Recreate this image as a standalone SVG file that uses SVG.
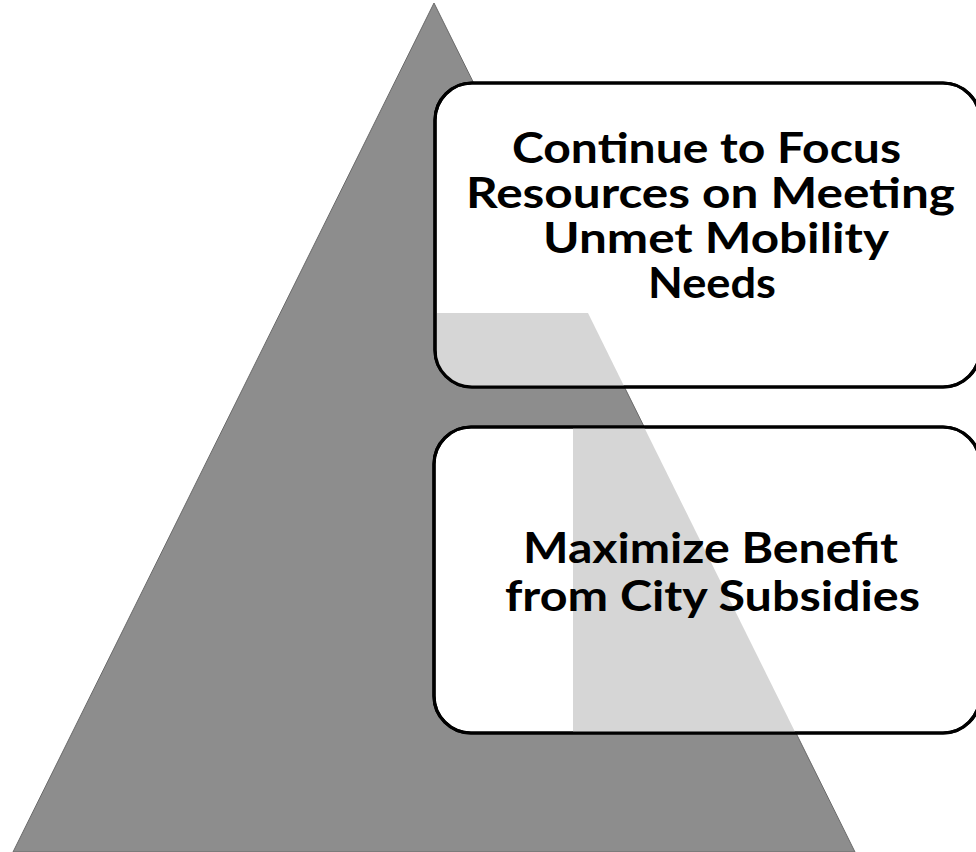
<svg xmlns="http://www.w3.org/2000/svg" width="976" height="852" viewBox="0 0 976 852">
  <style>
    .tri { fill: #8d8d8d; stroke: #6a6a6a; stroke-width: 1; }
    .box { fill: #ffffff; stroke: #000000; stroke-width: 3.2; }
    .boxline { fill: none; stroke: #000000; stroke-width: 3.2; }
    .light { fill: #d6d6d6; }
    .lbl { font-family: "Lato", "Open Sans", "Liberation Sans", sans-serif; font-weight: 700; font-size: 42px; fill: #000000; }
  </style>
  <defs>
    <clipPath id="clip1"><rect x="435" y="83" width="545" height="304" rx="37" ry="37"/></clipPath>
    <clipPath id="clip2"><rect x="434" y="427" width="546" height="306" rx="37" ry="37"/></clipPath>
  </defs>
  <rect x="0" y="0" width="976" height="852" fill="#ffffff"/>
  <g id="pyramid">
    <polygon class="tri" points="434,3 13,852 855,852"/>
  </g>
  <g id="connectors"></g>
  <g id="node1">
    <rect class="box" x="435" y="83" width="545" height="304" rx="37" ry="37"/>
    <polygon class="light" clip-path="url(#clip1)" points="437,313 588,313 624.5,387 437,387"/>
    <rect class="boxline" x="435" y="83" width="545" height="304" rx="37" ry="37"/>
    <text class="lbl" x="512" y="163" textLength="389" lengthAdjust="spacingAndGlyphs">Continue to Focus</text>
    <text class="lbl" x="466" y="208" textLength="489" lengthAdjust="spacingAndGlyphs">Resources on Meeting</text>
    <text class="lbl" x="543" y="253" textLength="346" lengthAdjust="spacingAndGlyphs">Unmet Mobility</text>
    <text class="lbl" x="648" y="298" textLength="128" lengthAdjust="spacingAndGlyphs">Needs</text>
  </g>
  <g id="node2">
    <rect class="box" x="434" y="427" width="546" height="306" rx="37" ry="37"/>
    <polygon class="light" clip-path="url(#clip2)" points="573,427 644,427 795.6,733 573,733"/>
    <rect class="boxline" x="434" y="427" width="546" height="306" rx="37" ry="37"/>
    <text class="lbl" x="523" y="563" textLength="375" lengthAdjust="spacingAndGlyphs">Maximize Benefit</text>
    <text class="lbl" x="505" y="611" textLength="415" lengthAdjust="spacingAndGlyphs">from City Subsidies</text>
  </g>
</svg>
